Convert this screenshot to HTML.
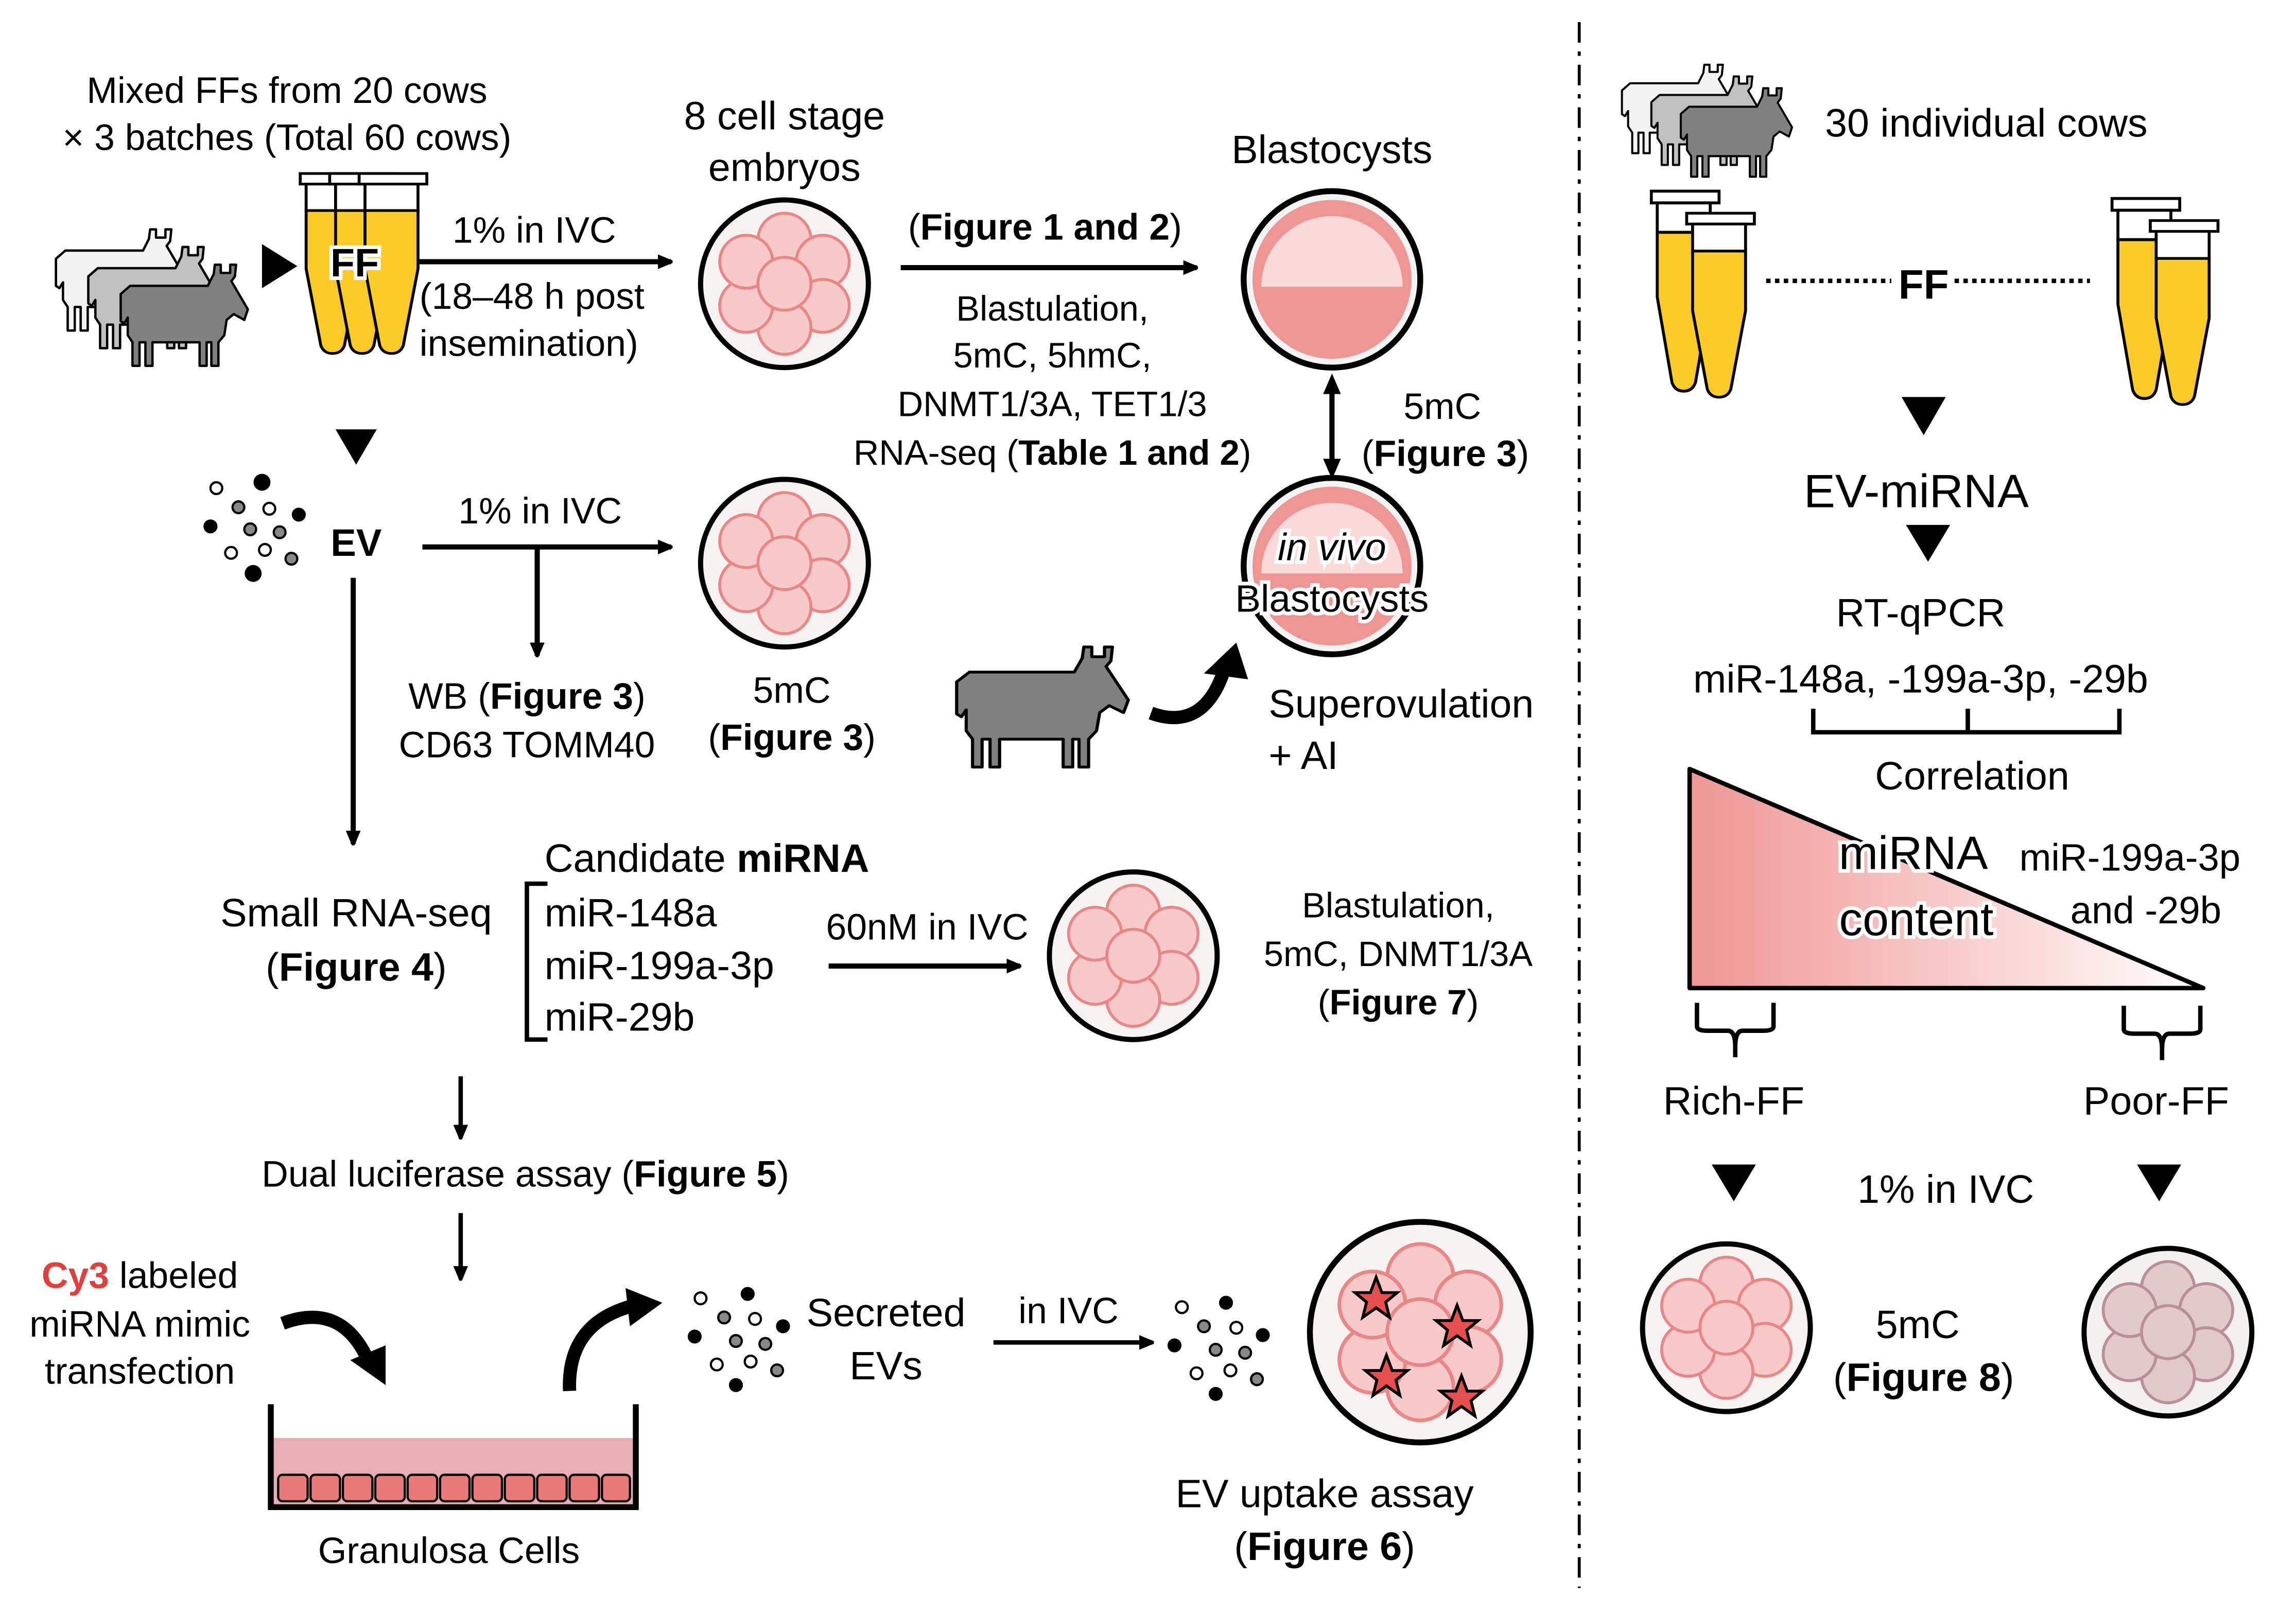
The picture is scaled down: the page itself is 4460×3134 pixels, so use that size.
<!DOCTYPE html>
<html><head><meta charset="utf-8"><style>
html,body{margin:0;padding:0;background:#fff}
svg{display:block}
text{font-family:"Liberation Sans",sans-serif;fill:#000}
</style></head><body>
<svg width="4460" height="3134" viewBox="0 0 1560 1097" preserveAspectRatio="none" xmlns="http://www.w3.org/2000/svg">
<defs>
<marker id="ah" markerWidth="10" markerHeight="10" refX="9" refY="5" orient="auto" markerUnits="userSpaceOnUse"><path d="M0,0 L12,5 L0,10 Z" fill="#000"/></marker>
<linearGradient id="tg" x1="0" x2="1" y1="0" y2="0"><stop offset="0" stop-color="#ee9694"/><stop offset="1" stop-color="#fff"/></linearGradient>
<g id="cells" stroke="#e98787" stroke-width="2" fill="#f8c9c9">
<circle cx="0" cy="-30" r="18"/><circle cx="26" cy="-15" r="18"/><circle cx="26" cy="15" r="18"/><circle cx="0" cy="30" r="18"/><circle cx="-26" cy="15" r="18"/><circle cx="-26" cy="-15" r="18"/><circle cx="0" cy="0" r="18"/>
</g>
<g id="emb"><circle r="57" fill="#f7f2f2" stroke="#000" stroke-width="3.5"/><use href="#cells"/></g>
<g id="blast"><circle r="60" fill="#f3f3f3" stroke="#000" stroke-width="4"/><circle r="54" fill="#ee9694"/><path d="M-48,5 A48,48 0 0 1 48,5 Z" fill="#fad9d9"/></g>
<path id="cow" d="M8,18 L74,18 L79,8 L80,0 L85,0 L85,7 L93,7 L93,0 L98,0 L97,10 L94,14 L108,38 L105,47 L96,42 L90,47 L88,60 L83,66 L83,86 L77,86 L77,66 L73,66 L73,86 L67,86 L67,66 L27,66 L27,86 L21,86 L21,66 L16,66 L16,86 L10,86 L10,66 L6,60 L6,45 L3,50 L0,48 L0,25 Z" stroke="#000" stroke-width="2" stroke-linejoin="round"/>
<g id="tube"><rect x="-20" y="0" width="46" height="8" fill="#fff" stroke="#000" stroke-width="2"/><rect x="-16" y="8" width="36" height="20" fill="#fff" stroke="#000" stroke-width="2"/><path d="M-16,28 L20,28 L20,72 L10,130 Q8,136 2,136 Q-4,136 -6,130 L-16,72 Z" fill="#fccb28" stroke="#000" stroke-width="2"/></g>
</defs>

<line x1="1073" y1="15" x2="1073" y2="1080" stroke="#000" stroke-width="2" stroke-dasharray="14,6,3,6"/>

<text x="195" y="70" font-size="25" text-anchor="middle">Mixed FFs from 20 cows</text>
<text x="195" y="102" font-size="25" text-anchor="middle">× 3 batches (Total 60 cows)</text>
<use href="#cow" transform="translate(38,156) scale(0.8)" fill="#f2f2f2"/>
<use href="#cow" transform="translate(60,168) scale(0.8)" fill="#c0c0c0"/>
<use href="#cow" transform="translate(82,180) scale(0.8)" fill="#808080"/>
<path d="M178,166 L202,181 L178,196 Z"/>
<use href="#tube" transform="translate(224,118) scale(1,0.9)"/>
<use href="#tube" transform="translate(244,118) scale(1,0.9)"/>
<use href="#tube" transform="translate(264,118) scale(1,0.9)"/>
<text x="241" y="188" font-size="27" font-weight="bold" text-anchor="middle" stroke="#fff" stroke-width="5" paint-order="stroke">FF</text>
<line x1="285" y1="178" x2="456" y2="178" stroke="#000" stroke-width="3.5" marker-end="url(#ah)"/>
<text x="363" y="165" font-size="25" text-anchor="middle">1% in IVC</text>
<text x="285" y="210" font-size="25">(18–48 h post</text>
<text x="285" y="242" font-size="25">insemination)</text>
<text x="533" y="88" font-size="27" text-anchor="middle">8 cell stage</text>
<text x="533" y="123" font-size="27" text-anchor="middle">embryos</text>
<use href="#emb" x="533" y="193"/>
<text x="710" y="163" font-size="25" text-anchor="middle">(<tspan font-weight="bold">Figure 1 and 2</tspan>)</text>
<line x1="612" y1="182" x2="813" y2="182" stroke="#000" stroke-width="3.5" marker-end="url(#ah)"/>
<text x="715" y="218" font-size="24" text-anchor="middle">Blastulation,</text>
<text x="715" y="250" font-size="24" text-anchor="middle">5mC, 5hmC,</text>
<text x="715" y="283" font-size="24" text-anchor="middle">DNMT1/3A, TET1/3</text>
<text x="715" y="316" font-size="24" text-anchor="middle">RNA-seq (<tspan font-weight="bold">Table 1 and 2</tspan>)</text>
<text x="905" y="111" font-size="27" text-anchor="middle">Blastocysts</text>
<use href="#blast" x="905" y="190"/>
<line x1="905" y1="262" x2="905" y2="318" stroke="#000" stroke-width="3.5"/>
<path d="M899,268 L905,254 L911,268 Z"/><path d="M899,312 L905,326 L911,312 Z"/>
<text x="980" y="285" font-size="25" text-anchor="middle">5mC</text>
<text x="982" y="317" font-size="25" text-anchor="middle">(<tspan font-weight="bold">Figure 3</tspan>)</text>
<use href="#blast" x="905" y="385"/>
<text x="905" y="381" font-size="26" font-style="italic" text-anchor="middle" stroke="#fff" stroke-width="5" paint-order="stroke">in vivo</text>
<text x="905" y="416" font-size="26" text-anchor="middle" stroke="#fff" stroke-width="5" paint-order="stroke">Blastocysts</text>
<use href="#cow" transform="translate(650,440) scale(1.08,0.95)" fill="#808080"/>
<path d="M782,485 Q818,498 832,455" fill="none" stroke="#000" stroke-width="9"/>
<path d="M818,458 L840,437 L848,462 Z"/>
<text x="862" y="488" font-size="27">Superovulation</text>
<text x="862" y="523" font-size="27">+ AI</text>

<path d="M228,292 L256,292 L242,316 Z"/>
<g stroke="#000" stroke-width="1.5">
<circle cx="147" cy="332" r="4" fill="#fff"/><circle cx="178" cy="328" r="5" fill="#000"/><circle cx="162" cy="345" r="4" fill="#888"/><circle cx="183" cy="346" r="4" fill="#fff"/><circle cx="143" cy="358" r="4" fill="#000"/><circle cx="170" cy="360" r="4" fill="#888"/><circle cx="190" cy="362" r="4" fill="#888"/><circle cx="203" cy="350" r="4" fill="#000"/><circle cx="157" cy="376" r="4" fill="#fff"/><circle cx="180" cy="374" r="4" fill="#fff"/><circle cx="198" cy="380" r="4" fill="#888"/><circle cx="172" cy="390" r="5" fill="#000"/>
</g>
<text x="242" y="378" font-size="26" font-weight="bold" text-anchor="middle">EV</text>
<line x1="287" y1="372" x2="456" y2="372" stroke="#000" stroke-width="3.5" marker-end="url(#ah)"/>
<text x="367" y="356" font-size="25" text-anchor="middle">1% in IVC</text>
<line x1="365" y1="372" x2="365" y2="446" stroke="#000" stroke-width="3.5" marker-end="url(#ah)"/>
<text x="358" y="482" font-size="25" text-anchor="middle">WB (<tspan font-weight="bold">Figure 3</tspan>)</text>
<text x="358" y="515" font-size="25" text-anchor="middle">CD63 TOMM40</text>
<use href="#emb" x="533" y="383"/>
<text x="538" y="478" font-size="25" text-anchor="middle">5mC</text>
<text x="538" y="510" font-size="25" text-anchor="middle">(<tspan font-weight="bold">Figure 3</tspan>)</text>
<line x1="240" y1="393" x2="240" y2="574" stroke="#000" stroke-width="3.5" marker-end="url(#ah)"/>

<text x="370" y="593" font-size="27">Candidate <tspan font-weight="bold">miRNA</tspan></text>
<path d="M372,601 L358,601 L358,707 L372,707" fill="none" stroke="#000" stroke-width="3"/>
<text x="370" y="630" font-size="27">miR-148a</text>
<text x="370" y="666" font-size="27">miR-199a-3p</text>
<text x="370" y="701" font-size="27">miR-29b</text>
<text x="242" y="630" font-size="27" text-anchor="middle">Small RNA-seq</text>
<text x="242" y="667" font-size="27" text-anchor="middle">(<tspan font-weight="bold">Figure 4</tspan>)</text>
<line x1="563" y1="657" x2="693" y2="657" stroke="#000" stroke-width="3.5" marker-end="url(#ah)"/>
<text x="630" y="639" font-size="25" text-anchor="middle">60nM in IVC</text>
<use href="#emb" x="770" y="650"/>
<text x="950" y="624" font-size="24" text-anchor="middle">Blastulation,</text>
<text x="950" y="657" font-size="24" text-anchor="middle">5mC, DNMT1/3A</text>
<text x="950" y="690" font-size="24" text-anchor="middle">(<tspan font-weight="bold">Figure 7</tspan>)</text>
<line x1="313" y1="732" x2="313" y2="774" stroke="#000" stroke-width="3" marker-end="url(#ah)"/>
<text x="357" y="807" font-size="25" text-anchor="middle">Dual luciferase assay (<tspan font-weight="bold">Figure 5</tspan>)</text>
<line x1="313" y1="825" x2="313" y2="870" stroke="#000" stroke-width="3" marker-end="url(#ah)"/>

<text x="95" y="876" font-size="25" text-anchor="middle"><tspan fill="#e0403c" font-weight="bold">Cy3</tspan> labeled</text>
<text x="95" y="909" font-size="25" text-anchor="middle">miRNA mimic</text>
<text x="95" y="941" font-size="25" text-anchor="middle">transfection</text>
<path d="M192,900 Q232,885 250,925" fill="none" stroke="#000" stroke-width="9"/>
<path d="M238,925 L262,942 L262,915 Z"/>
<path d="M387,946 Q385,900 430,888" fill="none" stroke="#000" stroke-width="9"/>
<path d="M425,876 L450,886 L428,902 Z"/>
<rect x="186" y="978" width="244" height="45" fill="#e8aeb6"/>
<g fill="#e97a78" stroke="#000" stroke-width="1.5">
<rect x="189" y="1003" width="20" height="18" rx="3"/><rect x="211" y="1003" width="20" height="18" rx="3"/><rect x="233" y="1003" width="20" height="18" rx="3"/><rect x="255" y="1003" width="20" height="18" rx="3"/><rect x="277" y="1003" width="20" height="18" rx="3"/><rect x="299" y="1003" width="20" height="18" rx="3"/><rect x="321" y="1003" width="20" height="18" rx="3"/><rect x="343" y="1003" width="20" height="18" rx="3"/><rect x="365" y="1003" width="20" height="18" rx="3"/><rect x="387" y="1003" width="20" height="18" rx="3"/><rect x="409" y="1003" width="19" height="18" rx="3"/>
</g>
<path d="M184,955 L184,1025 L432,1025 L432,955" fill="none" stroke="#000" stroke-width="4"/>
<text x="305" y="1063" font-size="25" text-anchor="middle">Granulosa Cells</text>
<g stroke="#000" stroke-width="1.5">
<circle cx="476" cy="883" r="4" fill="#fff"/><circle cx="508" cy="880" r="4" fill="#000"/><circle cx="492" cy="896" r="4" fill="#888"/><circle cx="513" cy="897" r="4" fill="#fff"/><circle cx="472" cy="909" r="4" fill="#000"/><circle cx="500" cy="912" r="4" fill="#888"/><circle cx="520" cy="914" r="4" fill="#888"/><circle cx="532" cy="902" r="4" fill="#000"/><circle cx="487" cy="928" r="4" fill="#fff"/><circle cx="510" cy="926" r="4" fill="#fff"/><circle cx="528" cy="932" r="4" fill="#888"/><circle cx="500" cy="942" r="4" fill="#000"/>
</g>
<text x="602" y="902" font-size="27" text-anchor="middle">Secreted</text>
<text x="602" y="938" font-size="27" text-anchor="middle">EVs</text>
<line x1="675" y1="913" x2="783" y2="913" stroke="#000" stroke-width="3" marker-end="url(#ah)"/>
<text x="726" y="900" font-size="25" text-anchor="middle">in IVC</text>
<g stroke="#000" stroke-width="1.5">
<circle cx="803" cy="889" r="4" fill="#fff"/><circle cx="833" cy="886" r="4" fill="#000"/><circle cx="818" cy="902" r="4" fill="#888"/><circle cx="840" cy="903" r="4" fill="#fff"/><circle cx="798" cy="915" r="4" fill="#000"/><circle cx="826" cy="918" r="4" fill="#888"/><circle cx="846" cy="920" r="4" fill="#888"/><circle cx="858" cy="908" r="4" fill="#000"/><circle cx="813" cy="934" r="4" fill="#fff"/><circle cx="836" cy="932" r="4" fill="#fff"/><circle cx="854" cy="938" r="4" fill="#888"/><circle cx="826" cy="948" r="4" fill="#000"/>
</g>
<circle cx="965" cy="906" r="75" fill="#f7f2f2" stroke="#000" stroke-width="4"/>
<use href="#cells" transform="translate(965,906) scale(1.25)"/>
<g fill="#e54f4f" stroke="#000" stroke-width="1.5">
<path transform="translate(935,883) scale(1.3)" d="M0,-11 L3,-3 L11,-3 L5,2 L7,10 L0,5 L-7,10 L-5,2 L-11,-3 L-3,-3 Z"/>
<path transform="translate(990,902) scale(1.3)" d="M0,-11 L3,-3 L11,-3 L5,2 L7,10 L0,5 L-7,10 L-5,2 L-11,-3 L-3,-3 Z"/>
<path transform="translate(942,936) scale(1.3)" d="M0,-11 L3,-3 L11,-3 L5,2 L7,10 L0,5 L-7,10 L-5,2 L-11,-3 L-3,-3 Z"/>
<path transform="translate(993,950) scale(1.3)" d="M0,-11 L3,-3 L11,-3 L5,2 L7,10 L0,5 L-7,10 L-5,2 L-11,-3 L-3,-3 Z"/>
</g>
<text x="900" y="1025" font-size="27" text-anchor="middle">EV uptake assay</text>
<text x="900" y="1061" font-size="27" text-anchor="middle">(<tspan font-weight="bold">Figure 6</tspan>)</text>

<use href="#cow" transform="translate(1102,44) scale(0.7)" fill="#f2f2f2"/>
<use href="#cow" transform="translate(1122,52) scale(0.7)" fill="#c0c0c0"/>
<use href="#cow" transform="translate(1142,60) scale(0.7)" fill="#808080"/>
<text x="1240" y="93" font-size="27">30 individual cows</text>
<use href="#tube" transform="translate(1142,130)"/>
<use href="#tube" transform="translate(1166,145) scale(1,0.92)"/>
<use href="#tube" transform="translate(1455,135)"/>
<use href="#tube" transform="translate(1481,150) scale(1,0.92)"/>
<line x1="1200" y1="191" x2="1285" y2="191" stroke="#000" stroke-width="3" stroke-dasharray="3,3"/>
<line x1="1328" y1="191" x2="1420" y2="191" stroke="#000" stroke-width="3" stroke-dasharray="3,3"/>
<text x="1307" y="203" font-size="28" font-weight="bold" text-anchor="middle">FF</text>
<path d="M1292,270 L1322,270 L1307,296 Z"/>
<text x="1302" y="345" font-size="32" text-anchor="middle">EV-miRNA</text>
<path d="M1295,357 L1325,357 L1310,382 Z"/>
<text x="1305" y="426" font-size="27" text-anchor="middle">RT-qPCR</text>
<text x="1305" y="471" font-size="27" text-anchor="middle">miR-148a, -199a-3p, -29b</text>
<path d="M1232,482 L1232,498 L1440,498 L1440,482 M1337,482 L1337,498" fill="none" stroke="#000" stroke-width="3"/>
<text x="1340" y="537" font-size="27" text-anchor="middle">Correlation</text>
<path d="M1148,523 L1148,672 L1497,672 Z" fill="url(#tg)" stroke="#000" stroke-width="3" stroke-linejoin="round"/>
<text x="1300" y="591" font-size="32" text-anchor="middle" stroke="#fff" stroke-width="5" paint-order="stroke">miRNA</text>
<text x="1302" y="636" font-size="32" text-anchor="middle" stroke="#fff" stroke-width="5" paint-order="stroke">content</text>
<text x="1372" y="592" font-size="26">miR-199a-3p</text>
<text x="1458" y="628" font-size="26" text-anchor="middle">and -29b</text>
<path d="M1153,682 L1153,698 Q1153,701 1160,701 L1174,701 Q1179,701 1179,712 L1179,719 M1179,712 Q1179,701 1184,701 L1198,701 Q1205,701 1205,698 L1205,682" fill="none" stroke="#000" stroke-width="3"/>
<path d="M1443,684 L1443,700 Q1443,703 1450,703 L1464,703 Q1469,703 1469,714 L1469,721 M1469,714 Q1469,703 1474,703 L1488,703 Q1495,703 1495,700 L1495,684" fill="none" stroke="#000" stroke-width="3"/>
<text x="1178" y="758" font-size="27" text-anchor="middle">Rich-FF</text>
<text x="1465" y="758" font-size="27" text-anchor="middle">Poor-FF</text>
<path d="M1163,792 L1193,792 L1178,817 Z"/>
<path d="M1452,792 L1482,792 L1467,817 Z"/>
<text x="1322" y="818" font-size="27" text-anchor="middle">1% in IVC</text>
<use href="#emb" x="1173" y="903"/>
<circle cx="1473" cy="906" r="57" fill="#f3f0f0" stroke="#000" stroke-width="3.5"/>
<g transform="translate(1473,906)" stroke="#b99098" stroke-width="2" fill="#e2cacc">
<circle cx="0" cy="-30" r="18"/><circle cx="26" cy="-15" r="18"/><circle cx="26" cy="15" r="18"/><circle cx="0" cy="30" r="18"/><circle cx="-26" cy="15" r="18"/><circle cx="-26" cy="-15" r="18"/><circle cx="0" cy="0" r="18"/>
</g>
<text x="1303" y="910" font-size="27" text-anchor="middle">5mC</text>
<text x="1307" y="946" font-size="27" text-anchor="middle">(<tspan font-weight="bold">Figure 8</tspan>)</text>
</svg>
</body></html>
